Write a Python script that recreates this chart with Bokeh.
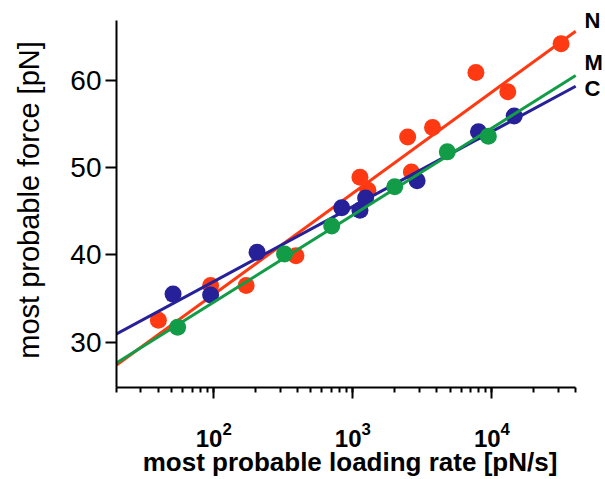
import numpy as np
from bokeh.plotting import figure
from bokeh.models import Range1d, FixedTicker, LogTicker, LinearAxis
from bokeh.embed import file_html
from bokeh.resources import INLINE

# ---------------- data ----------------
series_names = ["N", "C", "M"]

rate_N = [40, 95, 171, 390, 1125, 1282, 2478, 2636, 3741, 7670, 13000, 31400]
force_N = [32.5, 36.5, 36.5, 39.9, 48.9, 47.4, 53.5, 49.5, 54.6, 60.9, 58.7, 64.2]

rate_C = [51, 95, 205, 832, 1125, 1236, 2898, 8000, 14450]
force_C = [35.5, 35.4, 40.3, 45.4, 45.1, 46.5, 48.5, 54.1, 55.9]

rate_M = [55, 323, 705, 2000, 4775, 9420]
force_M = [31.7, 40.1, 43.3, 47.8, 51.8, 53.6]

# linear fits: force = intercept + slope * log10(rate)
fit_intercept = [12.29, 19.74, 14.62]
fit_slope = [11.59, 8.60, 9.98]
fit_rate_range = [20, 40000]

force_ticks = [30, 40, 50, 60]
end_labels = ["N", "M", "C"]
x_axis_label = "most probable loading rate [pN/s]"
y_axis_label = "most probable force [pN]"

# ---------------- styling ----------------
colors = {"N": "#FF3A12", "C": "#262099", "M": "#129C48"}
FONT = "Liberation Sans"

p = figure(width=605, height=479, x_axis_type="log",
           x_range=Range1d(20, 45520), y_range=Range1d(24.80, 67.77),
           output_backend="svg", toolbar_location=None,
           min_border_left=116, min_border_right=20, min_border_top=12,
           min_border_bottom=88)
p.grid.visible = False
p.outline_line_color = None
p.background_fill_color = "white"
p.border_fill_color = "white"

rates = {"N": rate_N, "C": rate_C, "M": rate_M}
forces = {"N": force_N, "C": force_C, "M": force_M}

fx = np.array(fit_rate_range, dtype=float)
for name, b0, b1 in zip(series_names, fit_intercept, fit_slope):
    col = colors[name]
    p.scatter(rates[name], forces[name], size=17, marker="circle",
              fill_color=col, line_color=col, line_width=0)
    p.line(fx, b0 + b1 * np.log10(fx), line_color=col, line_width=3)

# end labels N / M / C as tick labels of a bare right-hand axis
label_pos = [66.8, 62.0, 59.1]   # vertical placement of the labels (layout)
right = LinearAxis(ticker=FixedTicker(ticks=label_pos),
                   major_label_overrides={v: t for v, t in zip(label_pos, end_labels)})
right.axis_line_color = None
right.major_tick_line_color = None
right.minor_tick_line_color = None
right.major_tick_out = 0
right.major_tick_in = 0
right.major_label_standoff = 1
right.major_label_text_font = FONT
right.major_label_text_font_style = "bold"
right.major_label_text_font_size = "22px"
right.major_label_text_color = "black"
p.add_layout(right, "right")

# axes
p.xaxis.bounds = tuple(fit_rate_range)
p.yaxis.bounds = (24.80, 66.86)
p.xaxis.ticker = LogTicker(num_minor_ticks=10)
p.yaxis[0].ticker = FixedTicker(ticks=force_ticks)

for ax in (p.xaxis[0], p.yaxis[0]):
    ax.axis_line_width = 2
    ax.axis_line_color = "black"
    ax.major_tick_line_width = 2
    ax.major_tick_line_color = "black"
    ax.major_tick_in = 0
    ax.major_tick_out = 11
    ax.major_label_text_color = "black"
    ax.axis_label_text_color = "black"
    ax.major_label_text_font = FONT
    ax.axis_label_text_font = FONT

xa = p.xaxis[0]
xa.minor_tick_line_width = 2
xa.minor_tick_line_color = "black"
xa.minor_tick_in = 0
xa.minor_tick_out = 5
xa.major_label_text_font_size = "24px"
xa.major_label_text_font_style = "bold"
xa.major_label_standoff = 23
xa.axis_label = x_axis_label
xa.axis_label_text_font_size = "26px"
xa.axis_label_text_font_style = "bold"
xa.axis_label_standoff = -3

ya = p.yaxis[0]
ya.minor_tick_line_color = None
ya.major_label_text_font_size = "28px"
ya.major_label_text_font_style = "normal"
ya.major_label_standoff = 4
ya.axis_label = y_axis_label
ya.axis_label_text_font_size = "29px"
ya.axis_label_text_font_style = "normal"
ya.axis_label_standoff = 22

open("out.html", "w").write(file_html(p, INLINE))
